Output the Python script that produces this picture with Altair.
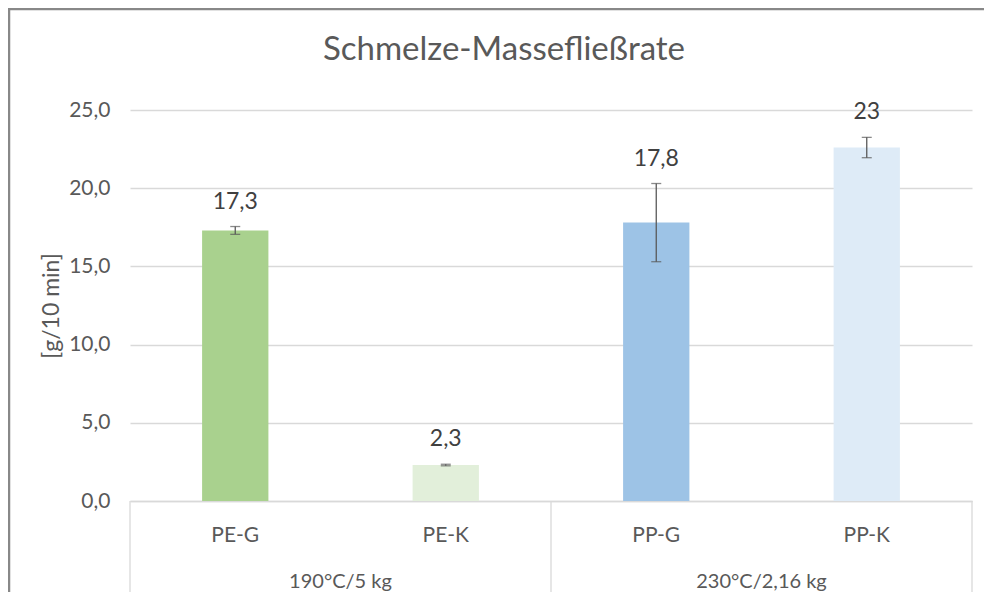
import altair as alt
import pandas as pd

title_text = "Schmelze-Massefließrate"
categories = ["PE-G", "PE-K", "PP-G", "PP-K"]
groups = ["190°C/5 kg", "190°C/5 kg", "230°C/2,16 kg", "230°C/2,16 kg"]
values = [17.3, 2.3, 17.8, 22.6]
errors = [0.25, 0.05, 2.5, 0.65]
labels = ["17,3", "2,3", "17,8", "23"]
colors = ["#A9D18E", "#E2EFDA", "#9DC3E6", "#DEEBF7"]

group_names = ["190°C/5 kg", "230°C/2,16 kg"]
group_center_cat = ["PE-G", "PP-G"]  # right edge of these bands is group centre
sep_cats = ["PE-G", "PP-G", "PP-K"]
sep_pos = [0, 0, 1]

FONT = "Lato"
GREY = "#595959"

df = pd.DataFrame({
    "cat": categories, "group": groups, "val": values, "err": errors,
    "label": labels,
})
df["lo"] = df["val"] - df["err"]
df["hi"] = df["val"] + df["err"]

W, H = 842, 391

xs = alt.X("cat:N", sort=categories, title=None,
           scale=alt.Scale(paddingInner=0, paddingOuter=0),
           axis=alt.Axis(labelFont=FONT, labelFontSize=21, labelColor=GREY,
                         labelPadding=23, ticks=False, domainColor="#D9D9D9",
                         domainWidth=1.3, labelAngle=0, grid=False))
ys = alt.Y("val:Q", title="[g/10 min]",
           scale=alt.Scale(domain=[0, 25], nice=False),
           axis=alt.Axis(values=[0, 5, 10, 15, 20, 25],
                         labelExpr="replace(format(datum.value, '.1f'), '.', ',')",
                         labelFont=FONT, labelFontSize=21, labelColor=GREY,
                         labelPadding=20, ticks=False, domain=False,
                         gridColor="#D9D9D9", gridWidth=1.3,
                         titleFont=FONT, titleFontSize=23, titleColor=GREY,
                         titleFontWeight="normal", titlePadding=5))

base = alt.Chart(df)

bars = base.mark_bar(width=alt.RelativeBandSize(0.315)).encode(
    x=xs, y=ys,
    color=alt.Color("cat:N", scale=alt.Scale(domain=categories, range=colors), legend=None),
)

err_rule = base.mark_rule(color=GREY, strokeWidth=1.3).encode(
    x=alt.X("cat:N", sort=categories), y="lo:Q", y2="hi:Q")
err_caps_lo = base.mark_tick(color=GREY, size=10, thickness=1.3, orient="horizontal").encode(
    x=alt.X("cat:N", sort=categories), y="lo:Q")
err_caps_hi = base.mark_tick(color=GREY, size=10, thickness=1.3, orient="horizontal").encode(
    x=alt.X("cat:N", sort=categories), y="hi:Q")

text = base.mark_text(font=FONT, fontSize=23, color="#404040", baseline="middle", dy=-25).encode(
    x=alt.X("cat:N", sort=categories), y="hi:Q", text="label:N")

seps = []
for c, p in zip(sep_cats, sep_pos):
    seps.append(alt.Chart(pd.DataFrame({"cat": [c]})).mark_rule(color="#D9D9D9", strokeWidth=1.3).encode(
        x=alt.X("cat:N", sort=categories, bandPosition=p),
        y=alt.value(H), y2=alt.value(H + 200)))

grp_df = pd.DataFrame({"cat": group_center_cat, "group": group_names})
grp_text = alt.Chart(grp_df).mark_text(font=FONT, fontSize=20, color=GREY, baseline="middle").encode(
    x=alt.X("cat:N", sort=categories, bandPosition=1),
    y=alt.value(H + 81), text="group:N")

title_mark = alt.Chart(pd.DataFrame({"t": [title_text]})).mark_text(
    font=FONT, fontSize=33, color=GREY, baseline="middle", align="center").encode(
    x=alt.value(W / 2 - 47), y=alt.value(-60), text="t:N")

frame_top = alt.Chart(pd.DataFrame({"a": [0]})).mark_rule(color="#888888", strokeWidth=2.5).encode(
    x=alt.value(-122), x2=alt.value(W + 12), y=alt.value(-101))
frame_left = alt.Chart(pd.DataFrame({"a": [0]})).mark_rule(color="#888888", strokeWidth=2.5).encode(
    x=alt.value(-121), y=alt.value(-102), y2=alt.value(H + 300))

chart = alt.layer(frame_top, frame_left, bars, err_rule, err_caps_lo, err_caps_hi, text,
                  *seps, grp_text, title_mark).properties(
    width=W, height=H,
    padding={"left": 122, "top": 102, "right": 12, "bottom": 91},
    autosize=alt.AutoSizeParams(type="none"),
    background="white",
).configure_view(stroke=None)

chart.save("out.html", embed_options={"renderer": "svg", "actions": False})
